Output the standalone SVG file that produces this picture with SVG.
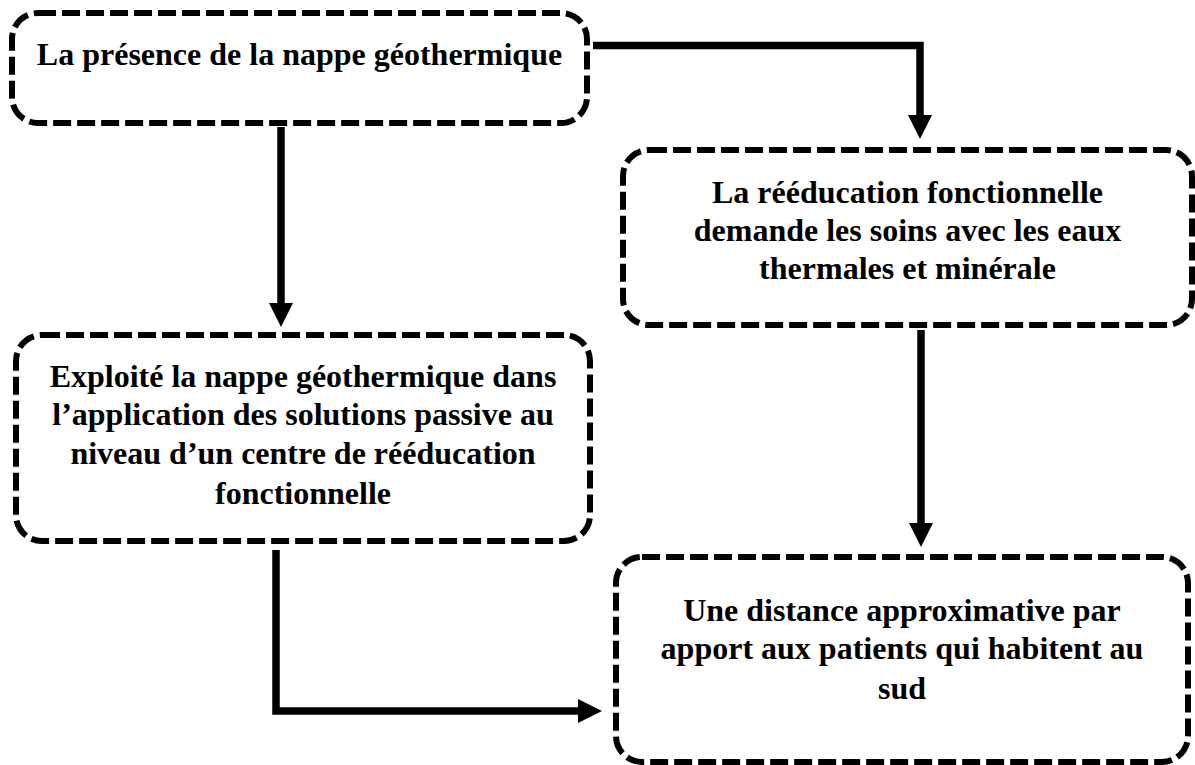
<svg xmlns="http://www.w3.org/2000/svg" width="1195" height="765" viewBox="0 0 1195 765">
  <style>
    .box { fill: #ffffff; stroke: #000000; stroke-width: 6; stroke-dasharray: 18 6; }
    .lbl { font-family: "Liberation Serif", "Times New Roman", serif; font-weight: bold; font-size: 32px; fill: #000000; text-anchor: middle; }
    .conn { fill: none; stroke: #000000; stroke-width: 7.5; stroke-linejoin: miter; stroke-linecap: butt; }
  </style>
  <defs>
    <marker id="arrow" markerUnits="userSpaceOnUse" markerWidth="24" markerHeight="24" refX="0" refY="12" orient="auto" viewBox="0 0 24 24">
      <path d="M0,0 L24,12 L0,24 Z" fill="#000000"/>
    </marker>
  </defs>
  <rect width="1195" height="765" fill="#ffffff"/>

  <g id="connectors">
    <path class="conn" d="M593,45.5 H920 V115" marker-end="url(#arrow)"/>
    <path class="conn" d="M281,127 V303" marker-end="url(#arrow)"/>
    <path class="conn" d="M921,330 V523" marker-end="url(#arrow)"/>
    <path class="conn" d="M276,550 V711 H578" marker-end="url(#arrow)"/>
  </g>

  <g id="node-presence">
    <rect class="box" x="12" y="13" width="575" height="110" rx="26" ry="26"/>
    <text class="lbl" x="299.5" y="65">La présence de la nappe géothermique</text>
  </g>

  <g id="node-reeducation">
    <rect class="box" x="623" y="150" width="569" height="175" rx="26" ry="26"/>
    <text class="lbl" x="907.5" y="203">La rééducation fonctionnelle</text>
    <text class="lbl" x="907.5" y="241">demande les soins avec les eaux</text>
    <text class="lbl" x="907.5" y="279">thermales et minérale</text>
  </g>

  <g id="node-exploite">
    <rect class="box" x="16" y="335" width="574" height="206" rx="26" ry="26"/>
    <text class="lbl" x="303" y="387">Exploité la nappe géothermique dans</text>
    <text class="lbl" x="303" y="425">l’application des solutions passive au</text>
    <text class="lbl" x="303" y="464">niveau d’un centre de rééducation</text>
    <text class="lbl" x="303" y="504">fonctionnelle</text>
  </g>

  <g id="node-distance">
    <rect class="box" x="616" y="557" width="572" height="205" rx="26" ry="26"/>
    <text class="lbl" x="902" y="621">Une distance approximative par</text>
    <text class="lbl" x="902" y="659">apport aux patients qui habitent au</text>
    <text class="lbl" x="902" y="699">sud</text>
  </g>
</svg>
